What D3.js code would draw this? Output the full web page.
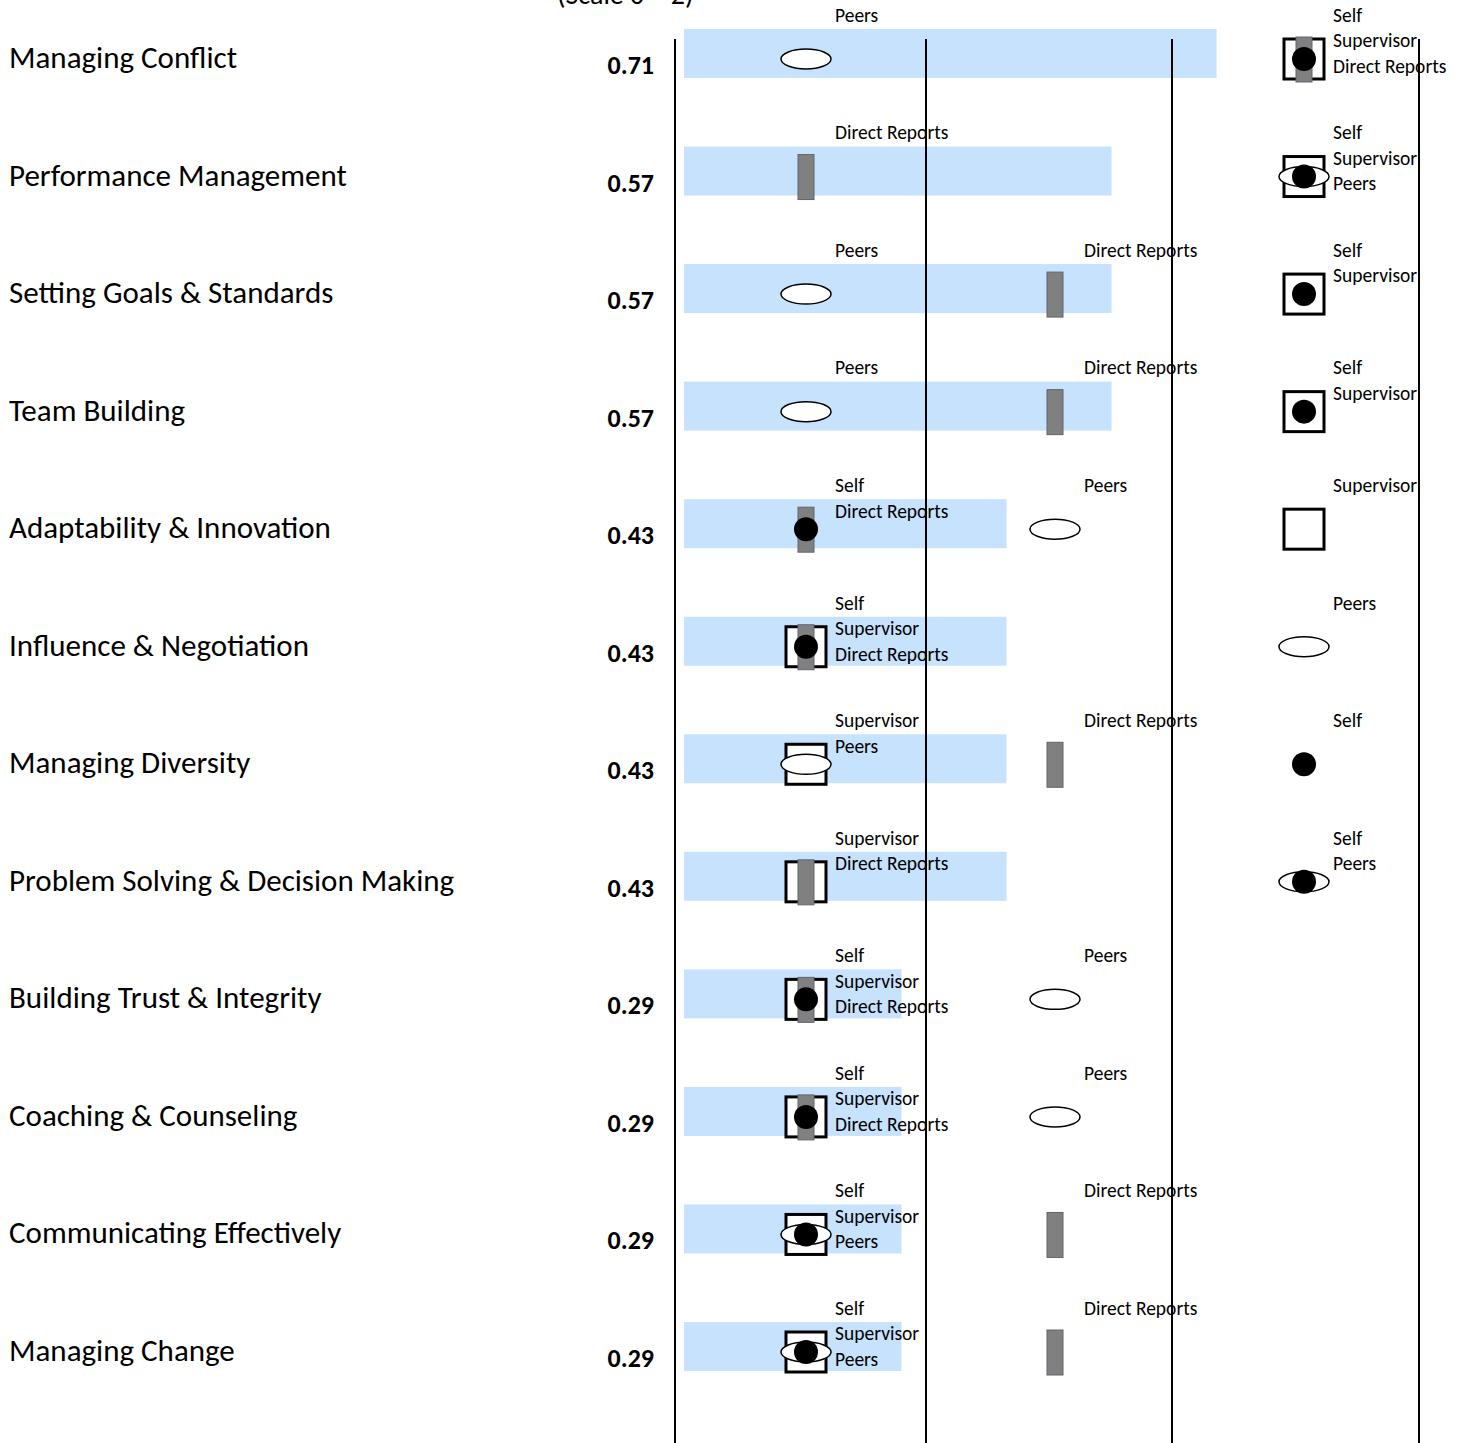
<!DOCTYPE html>
<html>
<head>
<meta charset="utf-8">
<script src="https://cdn.jsdelivr.net/npm/d3@7"></script>
<style>
  body { margin: 0; background: #fff; }
  svg { display: block; font-family: Carlito, Lato, "Open Sans", sans-serif; }
</style>
</head>
<body>
<svg id="chart" width="1463" height="1443"></svg>
<script>
// competencies, top to bottom
const categories = ['Managing Conflict', 'Performance Management', 'Setting Goals & Standards', 'Team Building',
  'Adaptability & Innovation', 'Influence & Negotiation', 'Managing Diversity', 'Problem Solving & Decision Making',
  'Building Trust & Integrity', 'Coaching & Counseling', 'Communicating Effectively', 'Managing Change'];

const gaps = [0.71, 0.57, 0.57, 0.57, 0.43, 0.43, 0.43, 0.43, 0.29, 0.29, 0.29, 0.29];

// rater scores on the 0 - 2 scale
const self       = [2, 2, 2, 2, 0, 0, 2, 2, 0, 0, 0, 0];
const supervisor = [2, 2, 2, 2, 2, 0, 0, 0, 0, 0, 0, 0];
const peers      = [0, 2, 0, 0, 1, 2, 0, 2, 1, 1, 0, 0];
const direct     = [2, 0, 1, 1, 0, 0, 1, 0, 0, 0, 1, 1];

const raters = ['Self', 'Supervisor', 'Peers', 'Direct Reports'];
const scores = [self, supervisor, peers, direct];
const gridValues = [0, 1, 2, 3];

var svg = d3.select('#chart');

var y = d3.scalePoint().domain(categories).range([59, 1352]);
var x = d3.scaleLinear().domain([0, 2]).range([806, 1304]);
var xGrid = d3.scaleLinear().domain([0, 1, 2, 3]).range([675, 926, 1172, 1419]);
var xBar = d3.scaleLinear().domain([0, 1]).range([684, 1434]);

svg.append('text')
  .attr('x', 557).attr('y', 4)
  .attr('font-size', 28)
  .text('(Scale 0 \u2013 2)');

// gap bars
svg.selectAll('.gap-bar')
  .data(categories)
  .join('rect')
  .attr('class', 'gap-bar')
  .attr('x', xBar(0))
  .attr('y', d => y(d) - 30)
  .attr('width', (d, i) => xBar(gaps[i]) - xBar(0))
  .attr('height', 49)
  .attr('fill', '#c6e2fd');

// category names and gap values
svg.selectAll('.cat-label')
  .data(categories)
  .join('text')
  .attr('class', 'cat-label')
  .attr('x', 9)
  .attr('y', d => y(d) + 9)
  .attr('font-size', 31)
  .text(d => d);

svg.selectAll('.gap-label')
  .data(categories)
  .join('text')
  .attr('class', 'gap-label')
  .attr('x', 654)
  .attr('y', d => y(d) + 15)
  .attr('text-anchor', 'end')
  .attr('font-size', 26)
  .attr('font-weight', 'bold')
  .text((d, i) => gaps[i].toFixed(2));

// vertical grid lines
svg.selectAll('.grid')
  .data(gridValues)
  .join('line')
  .attr('class', 'grid')
  .attr('x1', d => xGrid(d)).attr('x2', d => xGrid(d))
  .attr('y1', 39).attr('y2', 1443)
  .attr('stroke', '#000')
  .attr('stroke-width', 2);

// markers (drawn in stacking order: square, rect, ellipse, circle)
var rows = categories.map((c, i) => ({cat: c, i: i}));

svg.selectAll('.sup')
  .data(rows)
  .join('rect')
  .attr('class', 'sup')
  .attr('x', d => x(supervisor[d.i]) - 20)
  .attr('y', d => y(d.cat) - 20)
  .attr('width', 40).attr('height', 40)
  .attr('fill', '#fff')
  .attr('stroke', '#000')
  .attr('stroke-width', 3);

svg.selectAll('.dr')
  .data(rows)
  .join('rect')
  .attr('class', 'dr')
  .attr('x', d => x(direct[d.i]) - 8)
  .attr('y', d => y(d.cat) - 22)
  .attr('width', 16).attr('height', 45)
  .attr('fill', '#808080')
  .attr('stroke', '#5f6670')
  .attr('stroke-width', 1);

svg.selectAll('.peer')
  .data(rows)
  .join('ellipse')
  .attr('class', 'peer')
  .attr('cx', d => x(peers[d.i]))
  .attr('cy', d => y(d.cat))
  .attr('rx', 25).attr('ry', 10)
  .attr('fill', '#fff')
  .attr('stroke', '#000')
  .attr('stroke-width', 1.5);

svg.selectAll('.self')
  .data(rows)
  .join('circle')
  .attr('class', 'self')
  .attr('cx', d => x(self[d.i]))
  .attr('cy', d => y(d.cat))
  .attr('r', 12)
  .attr('fill', '#000');

// rater name labels stacked per column
rows.forEach(row => {
  [0, 1, 2].forEach(col => {
    var names = raters.filter((r, k) => scores[k][row.i] === col);
    svg.selectAll(null)
      .data(names)
      .join('text')
      .attr('x', x(col) + 29)
      .attr('y', (d, k) => y(row.cat) - 44 + k * 25.5)
      .attr('dy', '0.35em')
      .attr('font-size', 19.5)
      .text(d => d);
  });
});
</script>
</body>
</html>
